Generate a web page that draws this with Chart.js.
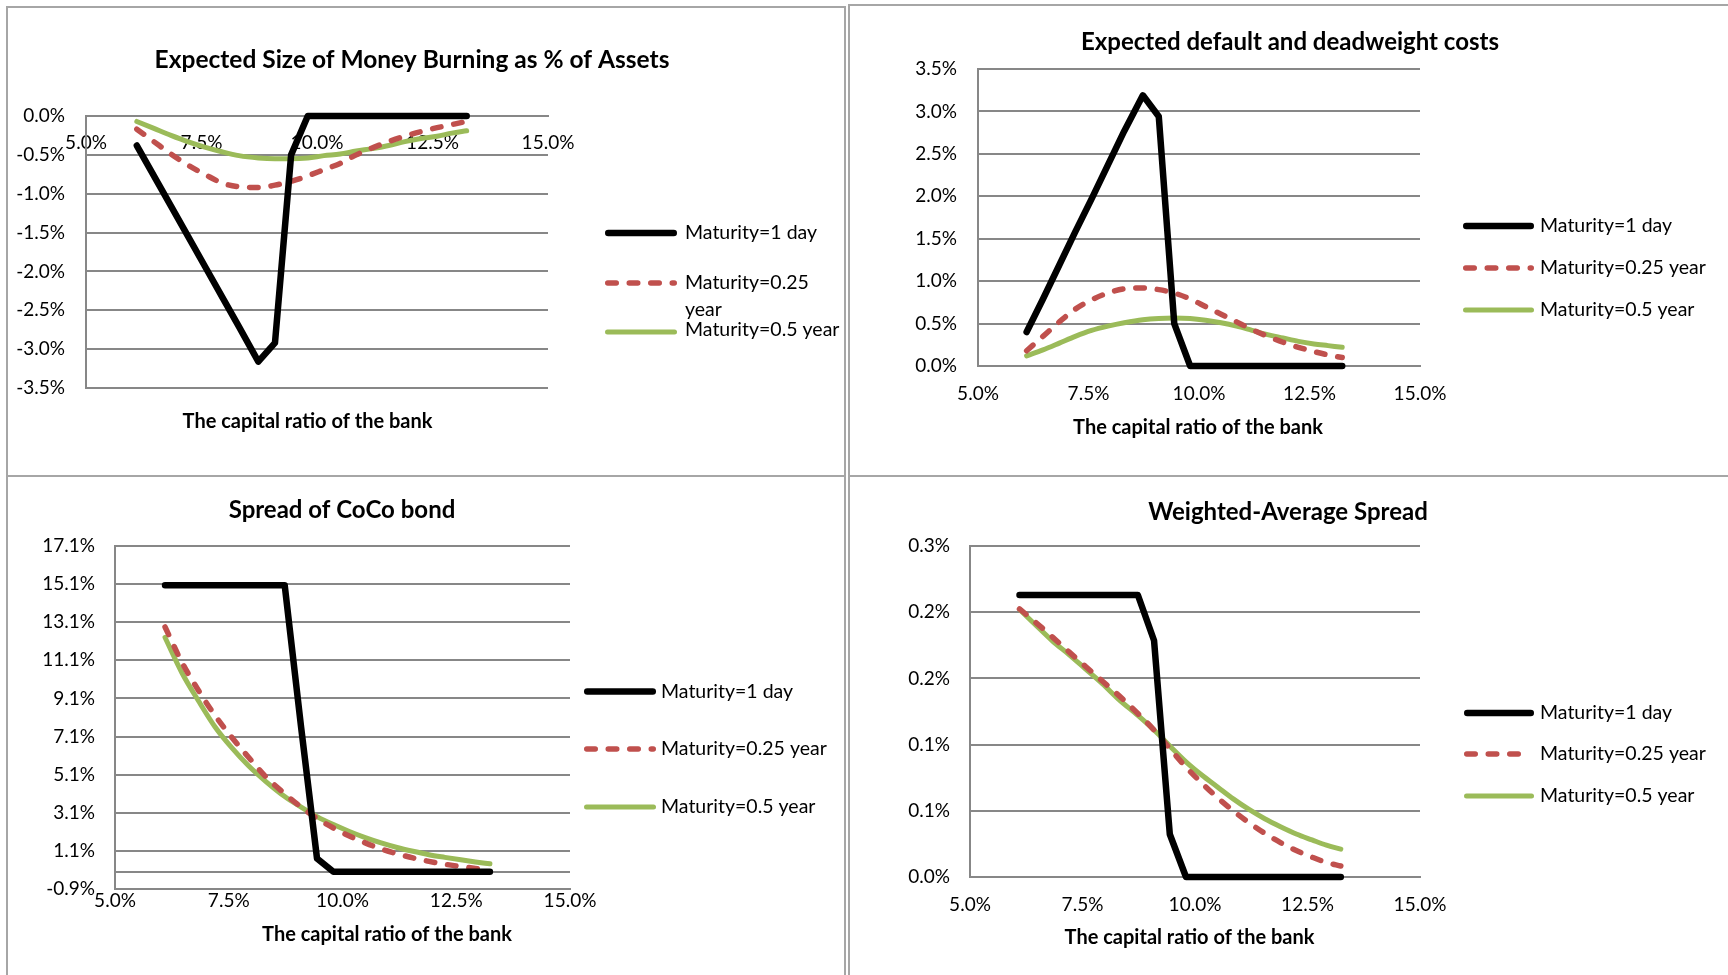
<!DOCTYPE html>
<html>
<head>
<meta charset="utf-8">
<title>CoCo bond maturity charts</title>
<script src="https://cdn.jsdelivr.net/npm/chart.js@4.4.1/dist/chart.umd.min.js"></script>
<style>
  body { margin: 0; background: #fff; width: 1728px; height: 975px; overflow: hidden; position: relative; }
  canvas { position: absolute; }
  .rule { position: absolute; background: #a6a6a6; }
</style>
</head>
<body>
<canvas id="burn" width="846" height="477" style="left:0;top:0"></canvas>
<canvas id="cost" width="882" height="477" style="left:846px;top:0"></canvas>
<canvas id="coco" width="846" height="498" style="left:0;top:477px"></canvas>
<canvas id="wavg" width="882" height="498" style="left:846px;top:477px"></canvas>

<!-- panel frames -->
<div class="rule" style="left:6px;top:6px;width:2px;height:969px"></div>
<div class="rule" style="left:6px;top:6px;width:840px;height:2px"></div>
<div class="rule" style="left:844px;top:6px;width:2px;height:969px"></div>
<div class="rule" style="left:848px;top:4px;width:2px;height:971px"></div>
<div class="rule" style="left:848px;top:4px;width:880px;height:2px"></div>
<div class="rule" style="left:6px;top:475px;width:840px;height:2px"></div>
<div class="rule" style="left:848px;top:475px;width:880px;height:2px"></div>

<script>
// capital ratio of the bank (%), shared by every series
const capRatio = [6.1, 6.47, 6.84, 7.2, 7.57, 7.94, 8.31, 8.73, 9.09, 9.44, 9.8,
  10.15, 10.5, 10.85, 11.2, 11.55, 11.9, 12.25, 12.6, 12.92, 13.24];
const seriesNames = ['Maturity=1 day', 'Maturity=0.25 year', 'Maturity=0.5 year'];
const xTickLabels = ['5.0%', '7.5%', '10.0%', '12.5%', '15.0%'];
const xTitle = 'The capital ratio of the bank';

// Expected size of money burning as % of assets
const burn1d = [-0.38, -0.77, -1.16, -1.54, -1.93, -2.32, -2.71, -3.16, -2.92, -0.5, 0,
  0, 0, 0, 0, 0, 0, 0, 0, 0, 0];
const burn3m = [-0.17, -0.33, -0.49, -0.63, -0.75, -0.86, -0.91, -0.92, -0.89, -0.84, -0.77,
  -0.69, -0.61, -0.5, -0.41, -0.33, -0.26, -0.2, -0.15, -0.11, -0.07];
const burn6m = [-0.07, -0.16, -0.25, -0.33, -0.4, -0.46, -0.51, -0.54, -0.55, -0.55, -0.54,
  -0.51, -0.49, -0.45, -0.42, -0.38, -0.33, -0.29, -0.26, -0.22, -0.19];
const burnTicks = ['-3.5%', '-3.0%', '-2.5%', '-2.0%', '-1.5%', '-1.0%', '-0.5%', '0.0%'];

// Expected default and deadweight costs
const cost1d = [0.4, 0.79, 1.19, 1.58, 1.97, 2.37, 2.77, 3.19, 2.94, 0.5, 0,
  0, 0, 0, 0, 0, 0, 0, 0, 0, 0];
const cost3m = [0.18, 0.35, 0.52, 0.67, 0.78, 0.86, 0.91, 0.92, 0.9, 0.86, 0.79,
  0.7, 0.61, 0.52, 0.43, 0.35, 0.28, 0.22, 0.17, 0.13, 0.1];
const cost6m = [0.12, 0.19, 0.27, 0.35, 0.42, 0.47, 0.51, 0.545, 0.56, 0.565, 0.56,
  0.54, 0.51, 0.47, 0.42, 0.37, 0.33, 0.29, 0.26, 0.24, 0.22];
const costTicks = ['0.0%', '0.5%', '1.0%', '1.5%', '2.0%', '2.5%', '3.0%', '3.5%'];

// Spread of CoCo bond
const coco1d = [15.04, 15.04, 15.04, 15.04, 15.04, 15.04, 15.04, 15.04, 7.6, 0.7, 0,
  0, 0, 0, 0, 0, 0, 0, 0, 0, 0];
const coco3m = [12.85, 11.0, 9.5, 8.2, 7.05, 6.0, 5.0, 4.1, 3.4, 2.8, 2.3,
  1.88, 1.52, 1.2, 0.95, 0.73, 0.55, 0.4, 0.28, 0.18, 0.1];
const coco6m = [12.3, 10.45, 8.95, 7.6, 6.5, 5.55, 4.75, 3.95, 3.4, 2.9, 2.48,
  2.12, 1.8, 1.52, 1.28, 1.08, 0.9, 0.76, 0.63, 0.52, 0.42];
const cocoTicks = ['-0.9%', '1.1%', '3.1%', '5.1%', '7.1%', '9.1%', '11.1%', '13.1%', '15.1%', '17.1%'];

// Weighted-average spread
const wavg1d = [0.213, 0.213, 0.213, 0.213, 0.213, 0.213, 0.213, 0.213, 0.1786, 0.0323, 0,
  0, 0, 0, 0, 0, 0, 0, 0, 0, 0];
const wavg3m = [0.2025, 0.192, 0.181, 0.17, 0.159, 0.148, 0.137, 0.1235, 0.111, 0.097, 0.083,
  0.071, 0.06, 0.05, 0.041, 0.033, 0.026, 0.02, 0.015, 0.011, 0.0083];
const wavg6m = [0.202, 0.19, 0.178, 0.168, 0.157, 0.146, 0.134, 0.122, 0.111, 0.099, 0.087,
  0.077, 0.068, 0.059, 0.051, 0.044, 0.038, 0.0325, 0.028, 0.024, 0.021];
const wavgTicks = ['0.0%', '0.1%', '0.1%', '0.2%', '0.2%', '0.3%'];

const GRID = '#878787';
const FONT = 'Lato, "Open Sans", sans-serif';
Chart.defaults.font.family = FONT;
Chart.defaults.font.size = 19;
Chart.defaults.color = '#000';

const lineStyles = [
  { borderColor: '#000000', borderWidth: 6.5, tension: 0 },
  { borderColor: '#c0504d', borderWidth: 5.5, borderDash: [8.5, 13], cubicInterpolationMode: 'monotone' },
  { borderColor: '#9bbb59', borderWidth: 5, cubicInterpolationMode: 'monotone' }
];

// titles, axis title, legend and the y=0 axis line (Excel style)
const panelText = {
  id: 'panelText',
  beforeDatasetsDraw(chart, args, opts) {
    if (!opts.zeroLine) return;
    const ctx = chart.ctx, area = chart.chartArea;
    const y = Math.round(chart.scales.y.getPixelForValue(0));
    ctx.save();
    ctx.strokeStyle = GRID;
    ctx.lineWidth = 2;
    ctx.beginPath();
    ctx.moveTo(area.left, y);
    ctx.lineTo(area.right, y);
    ctx.stroke();
    ctx.restore();
  },
  afterDraw(chart, args, opts) {
    const ctx = chart.ctx;
    ctx.save();
    ctx.fillStyle = '#000';
    ctx.textAlign = 'center';
    ctx.textBaseline = 'middle';
    ctx.font = 'bold ' + opts.titleSize + 'px ' + FONT;
    ctx.fillText(opts.title, opts.titlePos[0], opts.titlePos[1]);
    ctx.font = 'bold 20px ' + FONT;
    ctx.fillText(xTitle, opts.xTitlePos[0], opts.xTitlePos[1]);

    const lg = opts.legend;
    ctx.textAlign = 'left';
    ctx.font = '19.5px ' + FONT;
    chart.data.datasets.forEach((ds, i) => {
      const y = lg.rows[i];
      const w = ds.borderWidth;
      ctx.save();
      ctx.strokeStyle = ds.borderColor;
      ctx.lineWidth = w;
      ctx.lineCap = 'round';
      ctx.setLineDash(ds.borderDash || []);
      ctx.beginPath();
      ctx.moveTo(lg.x0 + w / 2, y);
      ctx.lineTo(lg.x1 - w / 2, y);
      ctx.stroke();
      ctx.restore();
      const lines = (lg.text && lg.text[i]) || [ds.label];
      const ty = lg.textRows ? lg.textRows[i] : y;
      lines.forEach((t, k) => ctx.fillText(t, lg.tx, ty + k * 27));
    });
    ctx.restore();
  }
};

function makeChart(id, p) {
  const canvas = document.getElementById(id);
  const W = canvas.width, H = canvas.height;
  const [left, top, right, bottom] = p.area;
  // the x axis either hangs below the plot or sits on y=0 (money burning panel)
  const xBox = p.xAtZero ? 0 : H - bottom;
  return new Chart(canvas, {
    type: 'line',
    data: {
      datasets: p.series.map((vals, i) => Object.assign({
        label: seriesNames[i],
        data: capRatio.map((x, k) => ({ x: x, y: vals[k] })),
        pointRadius: 0,
        borderCapStyle: 'round',
        borderJoinStyle: 'round',
        fill: false,
        clip: false
      }, lineStyles[i]))
    },
    options: {
      responsive: false,
      animation: false,
      layout: { padding: { left: 0, top: top, right: W - right, bottom: H - bottom - xBox } },
      plugins: {
        legend: { display: false },
        tooltip: { enabled: false },
        panelText: p.text
      },
      scales: {
        x: {
          type: 'linear',
          min: 5, max: 15,
          position: p.xAtZero ? { y: 0 } : 'bottom',
          afterFit: s => { s.height = xBox; },
          grid: { display: false, drawTicks: false },
          border: { display: true, color: GRID, width: 2 },
          ticks: {
            stepSize: 2.5, padding: p.xPad, autoSkip: false, maxRotation: 0,
            callback: (v, i) => xTickLabels[i]
          }
        },
        y: {
          min: p.yMin, max: p.yMax,
          afterFit: s => { s.width = left; },
          grid: { color: GRID, lineWidth: 2, drawTicks: false },
          border: { display: true, color: GRID, width: 2 },
          ticks: {
            stepSize: p.yStep, padding: p.yPad, autoSkip: false,
            callback: (v, i) => p.yLabels[i]
          }
        }
      }
    },
    plugins: [panelText]
  });
}

makeChart('burn', {
  series: [burn1d, burn3m, burn6m],
  area: [86, 116, 548, 388],
  yMin: -3.5, yMax: 0, yStep: 0.5, yLabels: burnTicks,
  xAtZero: true, xPad: 15, yPad: 21,
  text: {
    title: 'Expected Size of Money Burning as % of Assets', titleSize: 24.5,
    titlePos: [412, 60], xTitlePos: [307.5, 422],
    legend: {
      x0: 605, x1: 677, tx: 685, rows: [233, 283, 332], textRows: [233, 283, 330],
      text: [null, ['Maturity=0.25', 'year'], null]
    }
  }
});

makeChart('cost', {
  series: [cost1d, cost3m, cost6m],
  area: [132, 69, 574, 366],
  yMin: 0, yMax: 3.5, yStep: 0.5, yLabels: costTicks,
  xPad: 16, yPad: 21,
  text: {
    title: 'Expected default and deadweight costs', titleSize: 24,
    titlePos: [444, 42.5], xTitlePos: [352, 427.5],
    legend: { x0: 617, x1: 688, tx: 694, rows: [226, 268, 310] }
  }
});

makeChart('coco', {
  series: [coco1d, coco3m, coco6m],
  area: [115, 69, 570, 412],
  yMin: -0.9, yMax: 17.1, yStep: 2, yLabels: cocoTicks,
  xPad: 0, yPad: 20,
  text: {
    title: 'Spread of CoCo bond', titleSize: 24,
    titlePos: [342, 33.5], xTitlePos: [387, 458],
    zeroLine: true,
    legend: { x0: 584, x1: 656, tx: 661, rows: [214.5, 272, 330] }
  }
});

makeChart('wavg', {
  series: [wavg1d, wavg3m, wavg6m],
  area: [124, 69, 574, 400],
  yMin: 0, yMax: 0.25, yStep: 0.05, yLabels: wavgTicks,
  xPad: 16, yPad: 20,
  text: {
    title: 'Weighted-Average Spread', titleSize: 24,
    titlePos: [442, 35.5], xTitlePos: [343.5, 460.5],
    legend: { x0: 618, x1: 688, tx: 694, rows: [236, 277, 319] }
  }
});
</script>
</body>
</html>
